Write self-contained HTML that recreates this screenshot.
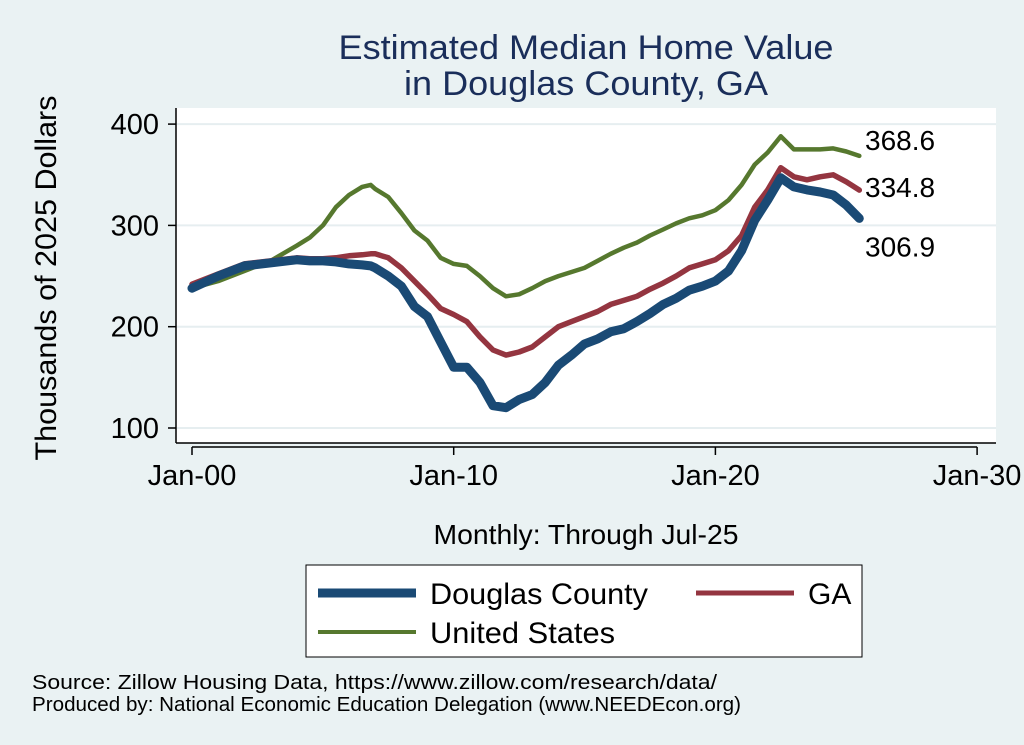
<!DOCTYPE html>
<html><head><meta charset="utf-8"><style>
body{margin:0;background:#eaf2f3;}
svg{display:block;font-family:"Liberation Sans",sans-serif;}
</style></head><body>
<svg id="chart" width="1024" height="745">
<rect width="1024" height="745" fill="#eaf2f3"/>
<text x="586" y="59" font-size="34" fill="#1a2e5a" text-anchor="middle" textLength="495" lengthAdjust="spacingAndGlyphs">Estimated Median Home Value</text>
<text x="586" y="95" font-size="34" fill="#1a2e5a" text-anchor="middle" textLength="364" lengthAdjust="spacingAndGlyphs">in Douglas County, GA</text>
<rect x="176" y="108" width="820" height="335" fill="#fff"/>
<g id="grid"></g><g id="axes"></g><g id="series"></g>
<text transform="translate(56,278) rotate(-90)" font-size="30" text-anchor="middle" textLength="365" lengthAdjust="spacingAndGlyphs">Thousands of 2025 Dollars</text>
<text x="586" y="544" font-size="28" text-anchor="middle" textLength="305" lengthAdjust="spacingAndGlyphs">Monthly: Through Jul-25</text>
<rect x="306" y="565" width="556" height="92" fill="#fff" stroke="#000" stroke-width="1"/>
<line x1="318" y1="593" x2="416" y2="593" stroke="#1a4a75" stroke-width="9"/>
<text x="430" y="604" font-size="30" textLength="218" lengthAdjust="spacingAndGlyphs">Douglas County</text>
<line x1="696" y1="593" x2="794" y2="593" stroke="#943540" stroke-width="5"/>
<text x="808" y="604" font-size="30">GA</text>
<line x1="318" y1="632" x2="416" y2="632" stroke="#56782e" stroke-width="4"/>
<text x="430" y="643" font-size="30" textLength="185" lengthAdjust="spacingAndGlyphs">United States</text>
<text x="32" y="689" font-size="20" textLength="685" lengthAdjust="spacingAndGlyphs">Source: Zillow Housing Data, https://www.zillow.com/research/data/</text>
<text x="32" y="711" font-size="20" textLength="709" lengthAdjust="spacingAndGlyphs">Produced by: National Economic Education Delegation (www.NEEDEcon.org)</text>
</svg>
<script>
const years=[2000,2001,2002,2003,2004,2004.5,2005,2005.5,2006,2006.5,2006.83,2007,2007.5,2008,2008.5,2009,2009.5,2010,2010.5,2011,2011.5,2012,2012.5,2013,2013.5,2014,2014.5,2015,2015.5,2016,2016.5,2017,2017.5,2018,2018.5,2019,2019.5,2020,2020.5,2021,2021.5,2022,2022.5,2023,2023.5,2024,2024.5,2025,2025.5];
const douglas=[238,250,260,263,266,265,265,264,262,261,260,258,250,240,220,210,185,160,160,145,122,120,128,133,145,162,172,183,188,195,198,205,213,222,228,236,240,245,255,275,305,325,347,338,335,333,330,320,306.9];
const ga=[242,252,262,265,268,267,267,268,270,271,272,272,268,258,245,232,218,212,205,190,177,172,175,180,190,200,205,210,215,222,226,230,237,243,250,258,262,266,275,290,318,335,357,348,345,348,350,343,334.8];
const us=[238,245,255,265,280,288,300,318,330,338,340,336,328,312,295,285,268,262,260,250,238,230,232,238,245,250,254,258,265,272,278,283,290,296,302,307,310,315,325,340,360,372,388,375,375,375,376,373,368.6];
const yTicks=[100,200,300,400];
const xTicks=[2000,2010,2020,2030];
const xTickLabels=["Jan-00","Jan-10","Jan-20","Jan-30"];
const NS="http://www.w3.org/2000/svg";
const X=v=>192+(v-2000)*26.17;
const Y=v=>428-(v-100)*1.013;
function mk(tag,attrs,parent,text){const e=document.createElementNS(NS,tag);for(const k in attrs)e.setAttribute(k,attrs[k]);if(text!=null)e.textContent=text;document.getElementById(parent).appendChild(e);return e;}
yTicks.forEach(t=>{
  const g=mk('line',{x1:176,x2:996,y1:Y(t),y2:Y(t),stroke:'#e6eef0','stroke-width':2},'grid');
  
  
  const tk=mk('line',{x1:168,x2:176,y1:Y(t),y2:Y(t),stroke:'#000','stroke-width':1.5},'axes');
  
  
  const l=mk('text',{x:159,y:Y(t)+10,'font-size':29,'text-anchor':'end'},'axes',t);
  
  
});
const ya=mk('line',{x1:176,x2:176,y1:108,y2:443,stroke:'#000','stroke-width':1.5},'axes');


const xa=mk('line',{x1:176,x2:996,y1:443,y2:443,stroke:'#000','stroke-width':1.5},'axes');


const xb=mk('line',{x1:X(2000),x2:X(2030),y1:447,y2:447,stroke:'#000','stroke-width':1.5},'axes');


xTicks.forEach((t,i)=>{
  const tk=mk('line',{x1:X(t),x2:X(t),y1:447,y2:455,stroke:'#000','stroke-width':1.5},'axes');
  
  
  const l=mk('text',{x:X(t),y:485,'font-size':29,'text-anchor':'middle'},'axes',xTickLabels[i]);
  
  
});
function line(vals,color,w,name){
  const d=vals.map((v,i)=>(i?'L':'M')+X(years[i]).toFixed(1)+','+Y(v).toFixed(1)).join(' ');
  const p=mk('path',{d:d,fill:'none',stroke:color,'stroke-width':w,'stroke-linejoin':'round','stroke-linecap':'round'},'series');
  
  
}
line(us,'#56782e',4.5,'line-united-states');
line(ga,'#943540',5.5,'line-ga');
line(douglas,'#1a4a75',9,'line-douglas-county');
function endLabel(vals,dy,name){
  const v=vals[vals.length-1];
  const t=mk('text',{x:865,y:Y(v)+dy,'font-size':28},'series',v.toFixed(1));
  
  
}
endLabel(us,-6,'end-label-us');
endLabel(ga,7,'end-label-ga');
endLabel(douglas,38,'end-label-douglas');
</script>
</body></html>
